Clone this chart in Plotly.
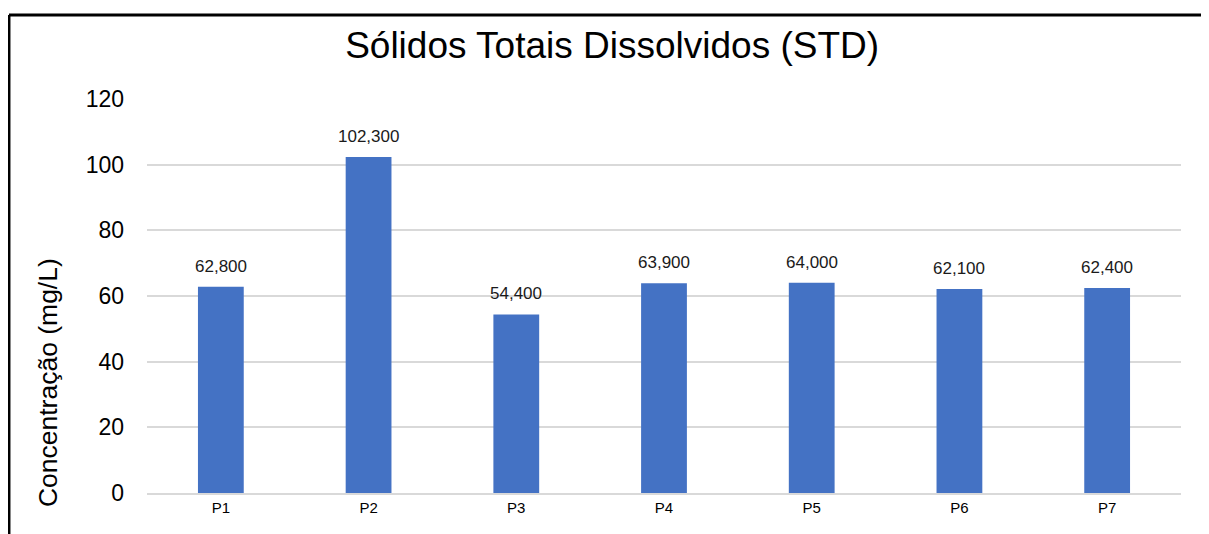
import plotly.graph_objects as go

categories = ["P1", "P2", "P3", "P4", "P5", "P6", "P7"]
values = [62.8, 102.3, 54.4, 63.9, 64.0, 62.1, 62.4]
labels = ["62,800", "102,300", "54,400", "63,900", "64,000", "62,100", "62,400"]
y_ticks = [0, 20, 40, 60, 80, 100, 120]

fig = go.Figure(go.Bar(
    x=categories,
    y=values,
    marker=dict(color="#4472C4", line=dict(width=0)),
))

# value labels above the bars
for cat, val, lab in zip(categories, values, labels):
    fig.add_annotation(x=cat, y=val, text=lab, showarrow=False,
                       yanchor="bottom", yshift=9,
                       font=dict(size=17, color="#1a1a1a"))

# y axis title sits low in the original (chart was cropped), so place it by hand
fig.add_annotation(text="Concentração (mg/L)", xref="paper", yref="paper",
                   x=-0.0957, y=0.279, xanchor="center", yanchor="middle",
                   textangle=-90, showarrow=False,
                   font=dict(size=26.5, color="black"))

# border frame (top and left edges visible in the original crop)
fig.add_shape(type="line", xref="paper", yref="paper",
              x0=-0.1335, x1=1.06, y0=1.2132, y1=1.2132,
              line=dict(color="black", width=3))
fig.add_shape(type="line", xref="paper", yref="paper",
              x0=-0.1335, x1=-0.1335, y0=1.2132, y1=-0.15,
              line=dict(color="black", width=3))

fig.update_layout(
    width=1201,
    height=526,
    margin=dict(l=139, r=28, t=91, b=41),
    paper_bgcolor="white",
    plot_bgcolor="white",
    font=dict(family="Liberation Sans, Arial, sans-serif", color="#1a1a1a"),
    title=dict(text="Sólidos Totais Dissolvidos (STD)", x=0.503, xanchor="center",
               xref="container", y=0.9297, yanchor="middle",
               font=dict(size=37, color="black")),
    bargap=0.69,
    showlegend=False,
)
fig.update_yaxes(
    range=[0, 120],
    tickvals=y_ticks,
    showgrid=True,
    gridcolor="#d9d9d9",
    gridwidth=1.5,
    zeroline=False,
    showline=False,
    ticks="",
    ticklabelstandoff=22,
    tickfont=dict(size=23, color="black"),
)
fig.update_xaxes(
    showline=True,
    linecolor="#d9d9d9",
    linewidth=2,
    ticks="",
    tickfont=dict(size=15, color="black"),
)

fig.write_html("out.html")
